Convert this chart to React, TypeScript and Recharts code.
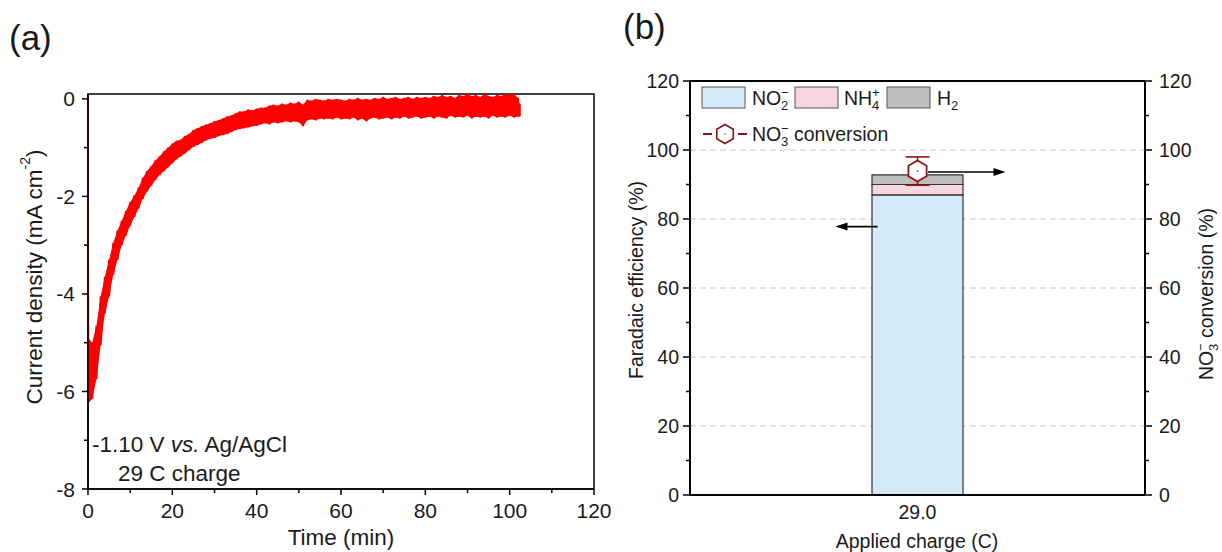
import React from 'react';
import {
  ComposedChart, Line, Area, XAxis, YAxis, ReferenceArea, Bar, ErrorBar,
  ReferenceLine, CartesianGrid,
} from 'recharts';

const FONT = '"Liberation Sans", Arial, Helvetica, sans-serif';
const INK = '#1a1a1a';

// ---------- Panel (a): chronoamperometry ----------
const timeMin = [
  0, 1, 2, 3, 4, 5, 6, 7, 8, 9, 10, 11, 12, 13, 14, 15, 16, 17, 18, 19, 20,
  21, 22, 23, 24, 25, 26, 27, 28, 29, 30, 31, 32, 33, 34, 35, 36, 37, 38, 39, 40,
  41, 42, 43, 44, 45, 46, 47, 48, 49, 50, 51, 52, 53, 54, 55, 56, 57, 58, 59, 60,
  61, 62, 63, 64, 65, 66, 67, 68, 69, 70, 71, 72, 73, 74, 75, 76, 77, 78, 79, 80,
  81, 82, 83, 84, 85, 86, 87, 88, 89, 90, 91, 92, 93, 94, 95, 96, 97, 98, 99, 100,
  101, 102, 102.4,
];
// upper edge of the noisy trace (mA cm-2)
const currentHigh = [
  -4.9, -5.0, -4.65, -4.05, -3.65, -3.3, -2.95, -2.7, -2.5, -2.3, -2.12, -1.98, -1.82, -1.62, -1.48, -1.38, -1.26, -1.18, -1.08, -1.0, -0.92,
  -0.86, -0.84, -0.76, -0.72, -0.64, -0.6, -0.56, -0.53, -0.5, -0.46, -0.44, -0.4, -0.36, -0.34, -0.3, -0.26, -0.26, -0.22, -0.24, -0.2,
  -0.18, -0.18, -0.14, -0.12, -0.14, -0.1, -0.12, -0.08, -0.1, -0.06, -0.12, -0.02, -0.04, 0.0, -0.02, -0.04, 0.0, -0.02, 0.0, -0.02,
  -0.04, 0.0, -0.02, 0.02, -0.02, 0.0, -0.02, 0.02, 0.0, 0.04, 0.0, 0.02, 0.04, 0.0, 0.02, 0.04, 0.0, 0.04, 0.02, 0.04,
  0.02, 0.06, 0.04, 0.08, 0.04, 0.06, 0.02, 0.08, 0.06, 0.1, 0.06, 0.08, 0.04, 0.1, 0.06, 0.04, 0.08, 0.06, 0.1, 0.08,
  0.1, 0.02, -0.1,
];
// lower edge of the noisy trace (mA cm-2)
const currentLow = [
  -6.25, -6.15, -5.75, -5.05, -4.4, -4.05, -3.6, -3.3, -3.0, -2.8, -2.6, -2.42, -2.25, -2.05, -1.9, -1.78, -1.66, -1.56, -1.48, -1.4, -1.32,
  -1.24, -1.18, -1.12, -1.05, -0.98, -0.94, -0.9, -0.85, -0.82, -0.8, -0.76, -0.74, -0.72, -0.68, -0.64, -0.62, -0.6, -0.58, -0.56, -0.55,
  -0.52, -0.5, -0.52, -0.48, -0.5, -0.48, -0.46, -0.48, -0.46, -0.48, -0.56, -0.44, -0.42, -0.44, -0.4, -0.42, -0.4, -0.42, -0.38, -0.42,
  -0.4, -0.42, -0.38, -0.44, -0.4, -0.46, -0.4, -0.38, -0.42, -0.4, -0.38, -0.42, -0.38, -0.4, -0.36, -0.4, -0.38, -0.36, -0.4, -0.38,
  -0.36, -0.4, -0.36, -0.38, -0.4, -0.34, -0.38, -0.36, -0.38, -0.34, -0.4, -0.36, -0.38, -0.36, -0.4, -0.34, -0.38, -0.36, -0.38, -0.34,
  -0.38, -0.36, -0.36,
];
// initial switch-on spike at t = 0
const spikeTime = [0, 0.15];
const spikeCurrent = [0, -6.2];
const timeTicks = [0, 10, 20, 30, 40, 50, 60, 70, 80, 90, 100, 110, 120];
const currentTicks = [-8, -7, -6, -5, -4, -3, -2, -1, 0];

// ---------- Panel (b): Faradaic efficiency ----------
const chargeCategories = ['29.0'];
const feNO2 = [87.0];
const feNH4 = [3.0];
const feH2 = [2.8];
const no3Conversion = [93.9];
const no3ConversionErr = [4.1];
const feArrowLevel = [77.8];
const feTicks = [0, 10, 20, 30, 40, 50, 60, 70, 80, 90, 100, 110, 120];
const gridValues = [20, 40, 60, 80, 100];

const traceA = timeMin.flatMap((t, i) => [
  { t, j: currentHigh[i] },
  { t, j: currentLow[i] },
]);
const bandA = timeMin.map((t, i) => ({ t, band: [currentLow[i], currentHigh[i]] }));
const spikeA = spikeTime.map((t, i) => ({ t, j: spikeCurrent[i] }));

const dataB = chargeCategories.map((c, i) => ({
  charge: c,
  no2: feNO2[i],
  nh4: feNH4[i],
  h2: feH2[i],
  conv: no3Conversion[i],
  convErr: no3ConversionErr[i],
  feArrow: feArrowLevel[i],
}));

const C_NO2 = '#d5eaf7';
const C_NH4 = '#f5d6e1';
const C_H2 = '#bebebe';
const C_CONV = '#8b1414';

// ---------- tick components ----------
const TickAX = (p: any) => {
  const { x, y, payload } = p;
  const v = payload.value;
  const major = v % 20 === 0;
  return (
    <g>
      <line x1={x} y1={y} x2={x} y2={y + (major ? 6 : 4)} stroke="#000" strokeWidth={1.5} />
      {major && (
        <text x={x} y={y + 29} textAnchor="middle" fontSize={21} fontFamily={FONT} fill={INK}>
          {v}
        </text>
      )}
    </g>
  );
};

const TickAY = (p: any) => {
  const { x, y, payload } = p;
  const v = payload.value;
  const major = Math.abs(v) % 2 === 0;
  return (
    <g>
      <line x1={x} y1={y} x2={x - (major ? 6 : 4)} y2={y} stroke="#000" strokeWidth={1.5} />
      {major && (
        <text x={x - 13} y={y} dy="0.36em" textAnchor="end" fontSize={21} fontFamily={FONT} fill={INK}>
          {v}
        </text>
      )}
    </g>
  );
};

const TickBL = (p: any) => {
  const { x, y, payload } = p;
  const v = payload.value;
  const major = v % 20 === 0;
  return (
    <g>
      <line x1={x} y1={y} x2={x - (major ? 7 : 4)} y2={y} stroke="#000" strokeWidth={1.5} />
      {major && (
        <text x={x - 11} y={y} dy="0.36em" textAnchor="end" fontSize={19.5} fontFamily={FONT} fill={INK}>
          {v}
        </text>
      )}
    </g>
  );
};

const TickBR = (p: any) => {
  const { x, y, payload } = p;
  const v = payload.value;
  const major = v % 20 === 0;
  return (
    <g>
      <line x1={x} y1={y} x2={x + (major ? 7 : 4)} y2={y} stroke="#000" strokeWidth={1.5} />
      {major && (
        <text x={x + 14} y={y} dy="0.36em" textAnchor="start" fontSize={19.5} fontFamily={FONT} fill={INK}>
          {v}
        </text>
      )}
    </g>
  );
};

const TickBX = (p: any) => {
  const { x, y, payload } = p;
  return (
    <text x={x} y={y + 24} textAnchor="middle" fontSize={19.5} fontFamily={FONT} fill={INK}>
      {payload.value}
    </text>
  );
};

const hexPoints = (cx: number, cy: number, r: number) =>
  [0, 1, 2, 3, 4, 5]
    .map((k) => {
      const a = (Math.PI / 180) * (-90 + 60 * k);
      return `${cx + r * Math.cos(a)},${cy + r * Math.sin(a)}`;
    })
    .join(' ');

const Arrow = ({ x1, x2, y }: { x1: number; x2: number; y: number }) => {
  const dir = x2 > x1 ? 1 : -1;
  return (
    <g>
      <line x1={x1} y1={y} x2={x2 - dir * 9} y2={y} stroke="#000" strokeWidth={1.6} />
      <polygon points={`${x2},${y} ${x2 - dir * 12},${y - 4} ${x2 - dir * 12},${y + 4}`} fill="#000" />
    </g>
  );
};

// conversion marker with its pointer towards the right-hand axis
const HexDot = (p: any) => {
  const { cx, cy } = p;
  if (cx == null || cy == null) return <g key="hex-empty" />;
  return (
    <g key="hex">
      <Arrow x1={cx + 10.5} x2={cx + 88} y={cy + 1} />
      <polygon points={hexPoints(cx, cy, 10.5)} fill="#fff" stroke={C_CONV} strokeWidth={1.8} />
      <circle cx={cx} cy={cy} r={0.9} fill="#d22" />
    </g>
  );
};

// pointer from the FE bar towards the left-hand axis
const FeArrowDot = (p: any) => {
  const { cx, cy } = p;
  if (cx == null || cy == null) return <g key="fea-empty" />;
  return (
    <g key="fea">
      <Arrow x1={cx - 40} x2={cx - 82} y={cy} />
    </g>
  );
};

const SubSup = ({ x, y, sub, sup, size = 13 }: any) => (
  <g>
    <text x={x} y={y - 8} fontSize={size} fontFamily={FONT} fill={INK}>{sup}</text>
    <text x={x} y={y + 5} fontSize={size} fontFamily={FONT} fill={INK}>{sub}</text>
  </g>
);

export default function App() {
  return (
    <div style={{ position: 'absolute', left: 0, top: 0, width: 1222, height: 552, background: '#fff' }}>
      <div style={{ position: 'absolute', left: 0, top: 0 }}>
        <ComposedChart width={620} height={552} margin={{ top: 94, right: 26, bottom: 0, left: 0 }}>
          <XAxis
            dataKey="t"
            type="number"
            domain={[0, 120]}
            ticks={timeTicks}
            interval={0}
            height={63}
            tickSize={0}
            tickMargin={0}
            tickLine={false}
            tick={(p: any) => <TickAX {...p} />}
            axisLine={{ stroke: '#000', strokeWidth: 1.5 }}
            allowDataOverflow
          />
          <YAxis
            type="number"
            domain={[-8, 0.1]}
            ticks={currentTicks}
            interval={0}
            width={88}
            tickSize={0}
            tickMargin={0}
            tickLine={false}
            tick={(p: any) => <TickAY {...p} />}
            axisLine={{ stroke: '#000', strokeWidth: 1.5 }}
            allowDataOverflow
          />
          <ReferenceArea x1={0} x2={120} y1={-8} y2={0.1} fill="none" fillOpacity={0} stroke="#000" strokeWidth={1.5} ifOverflow="visible" />
          <Area data={bandA} dataKey="band" type="linear" fill="#ff0000" fillOpacity={1} stroke="none" isAnimationActive={false} />
          <Line data={traceA} dataKey="j" type="linear" stroke="#ff0000" strokeWidth={2} dot={false} isAnimationActive={false} />
          <Line data={spikeA} dataKey="j" type="linear" stroke="#ff0000" strokeWidth={1.5} dot={false} isAnimationActive={false} />
        </ComposedChart>
      </div>

      <div style={{ position: 'absolute', left: 600, top: 0 }}>
        <ComposedChart width={622} height={552} data={dataB} margin={{ top: 81, right: 0, bottom: 0, left: 0 }}>
          <CartesianGrid vertical={false} horizontalValues={gridValues} stroke="#c8c8c8" strokeDasharray="6 4" />
          <XAxis
            dataKey="charge"
            type="category"
            height={57}
            tickSize={0}
            tickMargin={0}
            tickLine={false}
            tick={(p: any) => <TickBX {...p} />}
            axisLine={{ stroke: '#000', strokeWidth: 2 }}
          />
          <YAxis
            type="number"
            domain={[0, 120]}
            ticks={feTicks}
            interval={0}
            width={90}
            tickSize={0}
            tickMargin={0}
            tickLine={false}
            tick={(p: any) => <TickBL {...p} />}
            axisLine={{ stroke: '#000', strokeWidth: 2 }}
          />
          <YAxis
            yAxisId="right"
            orientation="right"
            type="number"
            domain={[0, 120]}
            ticks={feTicks}
            interval={0}
            width={77}
            tickSize={0}
            tickMargin={0}
            tickLine={false}
            tick={(p: any) => <TickBR {...p} />}
            axisLine={{ stroke: '#000', strokeWidth: 2 }}
          />
          <ReferenceLine y={120} stroke="#000" strokeWidth={2} />
          <Bar dataKey="no2" stackId="fe" fill={C_NO2} stroke="#333" strokeWidth={1.2} barSize={91} isAnimationActive={false} />
          <Bar dataKey="nh4" stackId="fe" fill={C_NH4} stroke="#333" strokeWidth={1.2} barSize={91} isAnimationActive={false} />
          <Bar dataKey="h2" stackId="fe" fill={C_H2} stroke="#333" strokeWidth={1.2} barSize={91} isAnimationActive={false} />
          <Line
            dataKey="feArrow"
            stroke="none"
            strokeWidth={0}
            dot={(p: any) => <FeArrowDot key="fea" {...p} />}
            isAnimationActive={false}
          />
          <Line
            yAxisId="right"
            dataKey="conv"
            stroke="none"
            strokeWidth={0}
            dot={false}
            isAnimationActive={false}
          >
            <ErrorBar dataKey="convErr" width={12} stroke={C_CONV} strokeWidth={1.6} direction="y" />
          </Line>
          <Line
            yAxisId="right"
            dataKey="conv"
            stroke="none"
            strokeWidth={0}
            dot={(p: any) => <HexDot key="hex" {...p} />}
            isAnimationActive={false}
          />
        </ComposedChart>
      </div>

      <svg
        width={1222}
        height={552}
        style={{ position: 'absolute', left: 0, top: 0, pointerEvents: 'none' }}
      >
        {/* Panel labels */}
        <text x={9} y={50} fontSize={35} fontFamily={FONT} fill={INK}>(a)</text>
        <text x={623} y={39} fontSize={35} fontFamily={FONT} fill={INK}>(b)</text>

        {/* Panel (a) titles */}
        <text x={341} y={545} textAnchor="middle" fontSize={22.5} fontFamily={FONT} fill={INK}>Time (min)</text>
        <g transform="translate(34,277) rotate(-90)">
          <text x={0} y={0} textAnchor="middle" dominantBaseline="central" fontSize={22.5} fontFamily={FONT} fill={INK}>
            Current density (mA cm
            <tspan fontSize={14} dy={-9}>-2</tspan>
            <tspan dy={9}>)</tspan>
          </text>
        </g>
        <text x={92} y={452} fontSize={22.5} fontFamily={FONT} fill={INK}>
          -1.10 V <tspan fontStyle="italic">vs.</tspan> Ag/AgCl
        </text>
        <text x={118} y={481} fontSize={22.5} fontFamily={FONT} fill={INK}>29 C charge</text>

        {/* Panel (b) titles */}
        <text x={917} y={548} textAnchor="middle" fontSize={19.5} fontFamily={FONT} fill={INK}>Applied charge (C)</text>
        <g transform="translate(636,280) rotate(-90)">
          <text x={0} y={0} textAnchor="middle" dominantBaseline="central" fontSize={19.5} fontFamily={FONT} fill={INK}>
            Faradaic efficiency (%)
          </text>
        </g>
        <g transform="translate(1213,292) rotate(-90)">
          <text x={-88} y={0} fontSize={19.5} fontFamily={FONT} fill={INK}>NO</text>
          <SubSup x={-59} y={0} sub="3" sup="−" />
          <text x={-46} y={0} fontSize={19.5} fontFamily={FONT} fill={INK}>conversion (%)</text>
        </g>

        {/* Panel (b) legend */}
        <rect x={702} y={87} width={43} height={21} fill={C_NO2} stroke="#555" strokeWidth={1} />
        <text x={752} y={105} fontSize={19.5} fontFamily={FONT} fill={INK}>NO</text>
        <SubSup x={781} y={105} sub="2" sup="−" />
        <rect x={795} y={87} width={43} height={21} fill={C_NH4} stroke="#555" strokeWidth={1} />
        <text x={844} y={105} fontSize={19.5} fontFamily={FONT} fill={INK}>NH</text>
        <SubSup x={872} y={105} sub="4" sup="+" />
        <rect x={887} y={87} width={43} height={21} fill={C_H2} stroke="#555" strokeWidth={1} />
        <text x={937} y={105} fontSize={19.5} fontFamily={FONT} fill={INK}>H</text>
        <text x={951} y={110} fontSize={13} fontFamily={FONT} fill={INK}>2</text>

        <line x1={703} y1={134} x2={712} y2={134} stroke={C_CONV} strokeWidth={2} />
        <line x1={738} y1={134} x2={747} y2={134} stroke={C_CONV} strokeWidth={2} />
        <polygon points={hexPoints(725, 134, 9.5)} fill="#fff" stroke={C_CONV} strokeWidth={1.6} />
        <circle cx={725} cy={134} r={0.8} fill="#d22" />
        <text x={752} y={141} fontSize={19.5} fontFamily={FONT} fill={INK}>NO</text>
        <SubSup x={781} y={141} sub="3" sup="−" />
        <text x={794} y={141} fontSize={19.5} fontFamily={FONT} fill={INK}>conversion</text>
      </svg>
    </div>
  );
}
